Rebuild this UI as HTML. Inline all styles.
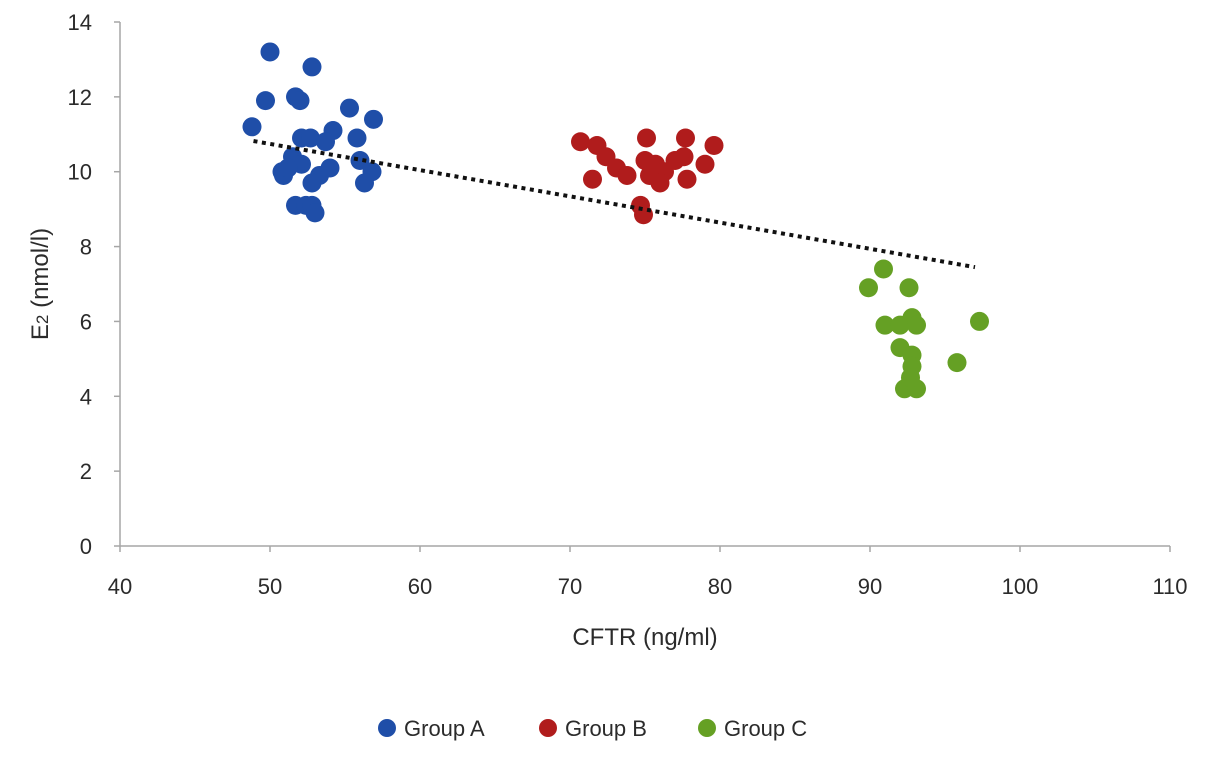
<!DOCTYPE html>
<html><head><meta charset="utf-8"><style>
body{margin:0;background:#fff;}
svg text{font-family:"Liberation Sans",sans-serif;fill:#2b2b2b;}
</style></head><body>
<svg id="chart" width="1205" height="757" xmlns="http://www.w3.org/2000/svg">
<g id="axes"></g><g id="marks"></g>
<text x="645" y="645" font-size="24" text-anchor="middle">CFTR (ng/ml)</text>
<text transform="translate(48,284) rotate(-90)" font-size="24" text-anchor="middle">E<tspan font-size="17" dy="0">2</tspan> (nmol/l)</text>
<g>
<circle cx="387" cy="728" r="9" fill="#1f4ea8"/>
<text x="404" y="736" font-size="22">Group A</text>
<circle cx="548" cy="728" r="9" fill="#b01c1c"/>
<text x="565" y="736" font-size="22">Group B</text>
<circle cx="707" cy="728" r="9" fill="#65a024"/>
<text x="724" y="736" font-size="22">Group C</text>
</g>
</svg>
<script>
const xTicks=[40,50,60,70,80,90,100,110];
const yTicks=[0,2,4,6,8,10,12,14];
const groupAx=[48.8,50.0,49.7,51.7,52.0,52.8,55.3,56.9,55.8,54.2,52.1,52.7,53.7,51.5,50.8,50.9,52.1,53.3,54.0,56.0,56.8,56.3,52.8,51.7,52.4,52.8,53.0,51.2];
const groupAy=[11.2,13.2,11.9,12.0,11.9,12.8,11.7,11.4,10.9,11.1,10.9,10.9,10.8,10.4,10.0,9.9,10.2,9.9,10.1,10.3,10.0,9.7,9.7,9.1,9.1,9.1,8.9,10.1];
const groupBx=[70.7,71.8,72.4,73.1,73.8,71.5,75.1,77.7,79.6,79.0,77.8,75.0,75.7,76.3,77.0,76.0,74.7,74.9,77.6,75.3];
const groupBy=[10.8,10.7,10.4,10.1,9.9,9.8,10.9,10.9,10.7,10.2,9.8,10.3,10.2,10.0,10.3,9.7,9.1,8.85,10.4,9.9];
const groupCx=[90.9,89.9,92.6,97.3,91.0,92.0,92.8,93.1,92.0,92.8,92.8,95.8,92.3,93.1,92.7];
const groupCy=[7.4,6.9,6.9,6.0,5.9,5.9,6.1,5.9,5.3,5.1,4.8,4.9,4.2,4.2,4.5];
const trendX=[48.9,97.0];
const trendY=[10.82,7.45];
const X=v=>120+(v-40)*15;
const Y=v=>546-v*(524/14);
const NS="http://www.w3.org/2000/svg";
const axes=document.getElementById('axes'),marks=document.getElementById('marks');
function mk(tag,attrs,parent){const e=document.createElementNS(NS,tag);for(const k in attrs)e.setAttribute(k,attrs[k]);parent.appendChild(e);return e;}
let l=mk('line',{x1:120,y1:22,x2:120,y2:546,stroke:'#a6a6a6','stroke-width':1.5},axes);


l=mk('line',{x1:120,y1:546,x2:1170,y2:546,stroke:'#a6a6a6','stroke-width':1.5},axes);


xTicks.forEach(t=>{
 const tk=mk('line',{x1:X(t),y1:546,x2:X(t),y2:552,stroke:'#a6a6a6','stroke-width':1.5},axes);
 
 
 const tx=mk('text',{x:X(t),y:594,'font-size':22,'text-anchor':'middle'},axes);tx.textContent=t;
 
 
});
yTicks.forEach(t=>{
 const tk=mk('line',{x1:114,y1:Y(t),x2:120,y2:Y(t),stroke:'#a6a6a6','stroke-width':1.5},axes);
 
 
 const tx=mk('text',{x:92,y:Y(t)+8,'font-size':22,'text-anchor':'end'},axes);tx.textContent=t;
 
 
});
function pts(xs,ys,col,name){xs.forEach((x,i)=>{const c=mk('circle',{cx:X(x),cy:Y(ys[i]),r:9.5,fill:col},marks);
 
 });}
pts(groupAx,groupAy,'#1f4ea8','point-group-a');
pts(groupBx,groupBy,'#b01c1c','point-group-b');
pts(groupCx,groupCy,'#65a024','point-group-c');
const tr=mk('line',{x1:X(trendX[0]),y1:Y(trendY[0]),x2:X(trendX[1]),y2:Y(trendY[1]),stroke:'#111','stroke-width':4,'stroke-dasharray':'4 4.5'},marks);


</script>
</body></html>
